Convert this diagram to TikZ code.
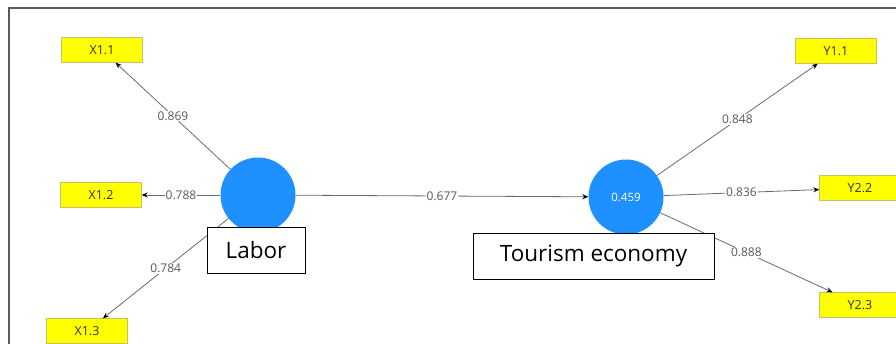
\documentclass[tikz,border=0pt]{standalone}
\usepackage{fontspec}
\setmainfont{Open Sans}
\usetikzlibrary{arrows.meta}
\definecolor{plsBlue}{HTML}{1E90FF}
\definecolor{plsYellow}{HTML}{FFFF00}
\definecolor{edgeGray}{HTML}{6A6A6A}
\definecolor{frameGray}{HTML}{5A5A5A}
\begin{document}
\begin{tikzpicture}
[x=1pt,y=-1pt,
  arrowDecorate/.style={-{Stealth[length=6pt,width=5pt,black]},draw=edgeGray,line width=0.8pt},%
  latentDecorate/.style={shape=circle,fill=plsBlue,minimum size=75pt,inner sep=0pt,text=white,font=\fontsize{11.5}{12}\selectfont},%
  indicatorDecorate/.style={shape=rectangle,fill=plsYellow,draw=olive!50,minimum width=81pt,minimum height=25pt,inner sep=0pt,text=black!80,font=\fontsize{12.5}{13}\selectfont},%
  weightDecorate/.style={fill=white,inner sep=1pt,text=black!65,font=\fontsize{12}{13}\selectfont},%
  nameDecorate/.style={shape=rectangle,draw,fill=white,line width=1pt,minimum height=46pt,inner sep=0pt,font=\fontsize{22.5}{24}\selectfont}]
\useasboundingbox (0,0) rectangle (896,343);
\draw[frameGray,line width=2pt] (9,344) -- (9,8) -- (897,8);
%% latent variables
\node (lab) at (258,195) [latentDecorate] {};
\node (tou) at (626,197) [latentDecorate] {0.459};
%% indicators
\foreach \nodename/\nodetext/\x/\y in {x11/X1.1/102/50, x12/X1.2/101/195, x13/X1.3/87/331,
  y11/Y1.1/836/51, y22/Y2.2/860/188, y23/Y2.3/860/305}
{
  \node (\nodename) at (\x,\y) [indicatorDecorate] {\nodetext};
}
%% loadings and path
\path
(lab) edge[arrowDecorate] node[weightDecorate] {0.869} (x11)
(lab) edge[arrowDecorate] node[weightDecorate] {0.788} (x12)
(lab) edge[arrowDecorate] node[weightDecorate] {0.784} (x13)
(lab) edge[arrowDecorate] node[weightDecorate] {0.677} (tou)
(tou) edge[arrowDecorate] node[weightDecorate] {0.848} (y11)
(tou) edge[arrowDecorate] node[weightDecorate] {0.836} (y22)
(tou) edge[arrowDecorate] node[weightDecorate] {0.888} (y23);
%% names
\node (labname) at (256,250) [nameDecorate,minimum width=98pt] {Labor};
\node (touname) at (593.5,256) [nameDecorate,minimum width=241pt] {Tourism economy\hspace{20pt}};
\end{tikzpicture}
\end{document}
